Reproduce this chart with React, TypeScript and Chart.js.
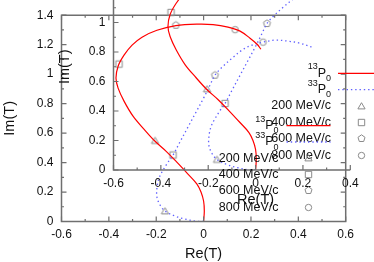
import React, { useEffect, useRef } from 'react';
import { Chart, registerables } from 'chart.js';

Chart.register(...registerables);

// ---------------- data ----------------
// 13P0 Argand curve (Re T, Im T)
const re13 = [0, 0.003, 0.0, -0.011, -0.028, -0.066, -0.113, -0.159, -0.206, -0.252, -0.298, -0.336, -0.361, -0.370, -0.361, -0.336, -0.302, -0.260, -0.197, -0.117, -0.028, 0.040, 0.103, 0.154, 0.196, 0.226, 0.242];
const im13 = [0, 0.071, 0.139, 0.200, 0.254, 0.322, 0.403, 0.478, 0.546, 0.627, 0.715, 0.817, 0.905, 0.973, 1.054, 1.129, 1.197, 1.251, 1.298, 1.329, 1.339, 1.336, 1.319, 1.292, 1.244, 1.203, 1.169];
// 33P0 Argand curve
const re33 = [0, -0.036, -0.079, -0.121, -0.163, -0.184, -0.197, -0.197, -0.188, -0.171, -0.150, -0.129, -0.100, -0.066, -0.032, 0.002, 0.027, 0.048, 0.078, 0.120, 0.162, 0.204, 0.251, 0.302, 0.356, 0.407, 0.458];
const im33 = [0, 0.003, 0.017, 0.037, 0.071, 0.112, 0.166, 0.227, 0.295, 0.349, 0.403, 0.451, 0.539, 0.641, 0.742, 0.844, 0.925, 0.993, 1.047, 1.108, 1.163, 1.197, 1.217, 1.231, 1.224, 1.210, 1.183];
// momentum markers (200, 400, 600, 800 MeV/c) on each curve
const energyLabels = ['200 MeV/c', '400 MeV/c', '600 MeV/c', '800 MeV/c'];
const mark13Re = [-0.205, -0.357, -0.117, 0.133];
const mark13Im = [0.546, 1.068, 1.332, 1.302];
const mark33Re = [-0.163, -0.129, 0.048, 0.251];
const mark33Im = [0.068, 0.451, 0.993, 1.217];
const seriesLabels = [
  { sup: '13', base: 'P', sub: '0' },
  { sup: '33', base: 'P', sub: '0' },
];
const xTickStep = 0.2;
const yTickStep = 0.2;

// ---------------- styles ----------------
const FONT = '"Liberation Sans", Arial, sans-serif';
const AXIS = '#6f6f6f';
const RED = '#ff0000';
const BLUE = 'rgb(95,95,255)';
const MARK = '#8a8a8a';
const BLUE_DASH = [1.4, 2.9];
const markerKinds = ['triangle', 'square', 'pentagon', 'circle'];

function makeMarker(kind: string): HTMLCanvasElement {
  const c = document.createElement('canvas');
  c.width = 11;
  c.height = 11;
  const g = c.getContext('2d')!;
  g.strokeStyle = MARK;
  g.lineWidth = 1;
  const cx = 5.5, cy = 5.5;
  g.beginPath();
  if (kind === 'triangle') {
    g.moveTo(cx, cy - 3.8);
    g.lineTo(cx + 3.6, cy + 2.4);
    g.lineTo(cx - 3.6, cy + 2.4);
    g.closePath();
  } else if (kind === 'square') {
    g.rect(cx - 3.2, cy - 3.2, 6.4, 6.4);
  } else if (kind === 'pentagon') {
    for (let k = 0; k < 5; k++) {
      const a = -Math.PI / 2 + (k * 2 * Math.PI) / 5;
      const px = cx + 3.7 * Math.cos(a), py = cy + 3.7 * Math.sin(a);
      if (k === 0) g.moveTo(px, py); else g.lineTo(px, py);
    }
    g.closePath();
  } else {
    g.arc(cx, cy, 3.2, 0, Math.PI * 2);
  }
  g.stroke();
  return c;
}

const gnuPlugin = {
  id: 'gnu',
  afterDraw(chart: any, _args: any, o: any) {
    const ctx = chart.ctx as CanvasRenderingContext2D;
    const { left, right, top, bottom } = chart.chartArea;
    const xs = chart.scales.x, ys = chart.scales.y;
    ctx.save();
    // frame
    ctx.strokeStyle = AXIS;
    ctx.lineWidth = 1.5;
    ctx.beginPath();
    if (o.fullBox) {
      ctx.rect(left, top, right - left, bottom - top);
    } else {
      ctx.moveTo(left, top);
      ctx.lineTo(left, bottom);
      ctx.lineTo(right, bottom);
    }
    ctx.stroke();
    // ticks (major every 0.2, minor every 0.1), pointing inward
    ctx.lineWidth = 1.2;
    ctx.beginPath();
    const k0 = Math.round(xs.min * 10), k1 = Math.round(xs.max * 10);
    for (let k = k0; k <= k1; k++) {
      const len = k % 2 === 0 ? 5 : 2.5;
      const px = xs.getPixelForValue(k / 10);
      ctx.moveTo(px, bottom);
      ctx.lineTo(px, bottom - len);
      if (o.fullBox) {
        ctx.moveTo(px, top);
        ctx.lineTo(px, top + len);
      }
    }
    const j0 = Math.round(ys.min * 10), j1 = Math.round(ys.max * 10);
    for (let j = j0; j <= j1; j++) {
      const len = j % 2 === 0 ? 5 : 2.5;
      const py = ys.getPixelForValue(j / 10);
      ctx.moveTo(left, py);
      ctx.lineTo(left + len, py);
      if (o.fullBox) {
        ctx.moveTo(right, py);
        ctx.lineTo(right - len, py);
      }
    }
    ctx.stroke();

    // axis titles
    ctx.fillStyle = '#111';
    ctx.font = `14.5px ${FONT}`;
    ctx.textAlign = 'center';
    ctx.textBaseline = 'middle';
    ctx.fillText('Re(T)', xs.getPixelForValue(0), bottom + o.xTitleDy);
    ctx.save();
    ctx.translate(left - o.yTitleDx, ys.getPixelForValue(0.7));
    ctx.rotate(-Math.PI / 2);
    ctx.fillText('Im(T)', 0, 0);
    ctx.restore();

    // legend
    const lg = o.legend;
    const markers = o.markers as HTMLCanvasElement[];
    let row = 0;
    seriesLabels.forEach((s, i) => {
      const y = lg.y + row * lg.step;
      ctx.font = `9px ${FONT}`;
      const wSup = ctx.measureText(s.sup).width;
      const wSub = ctx.measureText(s.sub).width;
      ctx.font = `12.5px ${FONT}`;
      const wBase = ctx.measureText(s.base).width;
      let x = lg.x - (wSup + wBase + wSub);
      ctx.textAlign = 'left';
      ctx.font = `9px ${FONT}`;
      ctx.fillText(s.sup, x, y - 6.6);
      x += wSup;
      ctx.font = `12.5px ${FONT}`;
      ctx.fillText(s.base, x, y);
      x += wBase;
      ctx.font = `9px ${FONT}`;
      ctx.fillText(s.sub, x, y + 5.3);
      ctx.beginPath();
      ctx.lineWidth = i === 0 ? 1.2 : 1.3;
      ctx.strokeStyle = i === 0 ? RED : BLUE;
      ctx.setLineDash(i === 0 ? [] : BLUE_DASH);
      ctx.moveTo(lg.sx - lg.sw / 2, y);
      ctx.lineTo(lg.sx + lg.sw / 2, y);
      ctx.stroke();
      ctx.setLineDash([]);
      row++;
    });
    energyLabels.forEach((t, i) => {
      const y = lg.y + row * lg.step;
      ctx.font = `12.5px ${FONT}`;
      ctx.textAlign = 'right';
      ctx.fillText(t, lg.x, y);
      const m = markers[i];
      ctx.drawImage(m, Math.round(lg.sx - m.width / 2), Math.round(y - m.height / 2));
      row++;
    });
    ctx.restore();
  },
};

type PanelCfg = {
  top: number;
  height: number;
  xMax: number;
  padTop: number;
  padRight: number;
  yAxisW: number;
  xAxisH: number;
  fullBox: boolean;
  legend: { x: number; y: number; step: number; sx: number; sw: number };
  xTitleDy: number;
  yTitleDx: number;
};

const fmt = (v: any) => {
  const n = Math.round(Number(v) * 10) / 10;
  return n === 0 ? '0' : String(n);
};

function Panel({ cfg }: { cfg: PanelCfg }) {
  const ref = useRef<HTMLCanvasElement>(null);
  useEffect(() => {
    if (!ref.current) return;
    const markers = markerKinds.map(makeMarker);
    const markerSets = energyLabels.map((label, i) => ({
      label,
      data: [
        { x: mark13Re[i], y: mark13Im[i] },
        { x: mark33Re[i], y: mark33Im[i] },
      ],
      showLine: false,
      pointStyle: markers[i],
      pointRadius: 4,
      pointHoverRadius: 4,
      borderColor: MARK,
      backgroundColor: 'transparent',
    }));
    const chart = new Chart(ref.current, {
      type: 'scatter',
      data: {
        datasets: [
          {
            label: '13P0',
            data: re13.map((x, i) => ({ x, y: im13[i] })),
            showLine: true,
            borderColor: RED,
            borderWidth: 1.2,
            pointRadius: 0,
            tension: 0.35,
          },
          {
            label: '33P0',
            data: re33.map((x, i) => ({ x, y: im33[i] })),
            showLine: true,
            borderColor: BLUE,
            borderWidth: 1.3,
            borderDash: BLUE_DASH,
            pointRadius: 0,
            tension: 0.35,
          },
          ...markerSets,
        ] as any,
      },
      options: {
        responsive: false,
        animation: false,
        events: [],
        layout: { padding: { top: cfg.padTop, right: cfg.padRight, left: 0, bottom: 0 } },
        plugins: {
          legend: { display: false },
          tooltip: { enabled: false },
          gnu: {
            fullBox: cfg.fullBox,
            legend: cfg.legend,
            xTitleDy: cfg.xTitleDy,
            yTitleDx: cfg.yTitleDx,
            markers,
          },
        } as any,
        scales: {
          x: {
            type: 'linear',
            min: -0.6,
            max: cfg.xMax,
            grid: { display: false, drawTicks: false, tickLength: 0 },
            border: { display: false },
            ticks: {
              stepSize: xTickStep,
              autoSkip: false,
              maxRotation: 0,
              padding: 6,
              color: '#111',
              font: { family: FONT, size: 12 },
              callback: fmt,
            },
            afterFit: (s: any) => {
              s.height = cfg.xAxisH;
            },
          },
          y: {
            type: 'linear',
            min: 0,
            max: 1.4,
            grid: { display: false, drawTicks: false, tickLength: 0 },
            border: { display: false },
            ticks: {
              stepSize: yTickStep,
              autoSkip: false,
              padding: 8,
              color: '#111',
              font: { family: FONT, size: 12 },
              callback: fmt,
            },
            afterFit: (s: any) => {
              s.width = cfg.yAxisW;
            },
          },
        },
      } as any,
      plugins: [gnuPlugin as any],
    });
    return () => chart.destroy();
  }, [cfg]);
  return (
    <canvas
      ref={ref}
      width={374}
      height={cfg.height}
      style={{ position: 'absolute', left: 0, top: cfg.top, width: 374, height: cfg.height }}
    />
  );
}

// main panel and its shifted duplicate
const mainCfg: PanelCfg = {
  top: 0,
  height: 262,
  xMax: 0.6,
  padTop: 15,
  padRight: 28.3,
  yAxisW: 61.5,
  xAxisH: 40.5,
  fullBox: true,
  legend: { x: 331, y: 73.3, step: 16.35, sx: 361, sw: 46 },
  xTitleDy: 32,
  yTitleDx: 52,
};
const dupCfg: PanelCfg = {
  top: -60,
  height: 322,
  xMax: 0.4,
  padTop: 23.5,
  padRight: 23.7,
  yAxisW: 113.5,
  xAxisH: 92,
  fullBox: false,
  legend: { x: 278.5, y: 185.7, step: 16.3, sx: 308.5, sw: 44 },
  xTitleDy: 30,
  yTitleDx: 48.5,
};

export default function App() {
  return (
    <div
      style={{
        position: 'fixed',
        left: 0,
        top: 0,
        width: 374,
        height: 262,
        overflow: 'hidden',
        background: '#fff',
      }}
    >
      <Panel cfg={mainCfg} />
      <Panel cfg={dupCfg} />
    </div>
  );
}
